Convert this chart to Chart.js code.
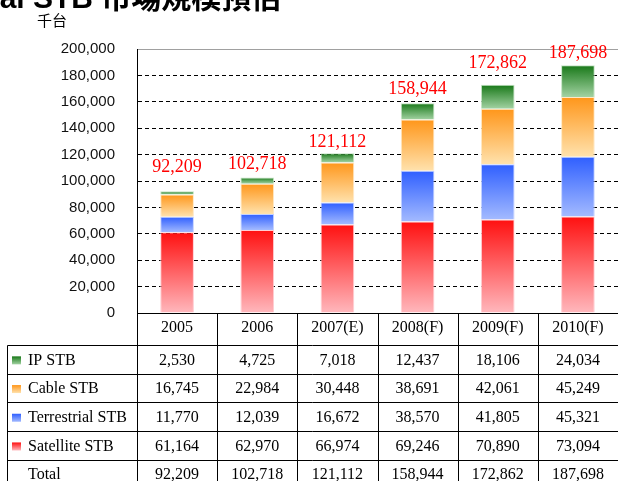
<!DOCTYPE html>
<html><head><meta charset="utf-8">
<script src="https://cdn.jsdelivr.net/npm/chart.js@4/dist/chart.umd.min.js"></script>
<style>
html,body{margin:0;padding:0;background:#fff;overflow:hidden;}
#wrap{position:relative;width:618px;height:481px;overflow:hidden;}
#title{position:absolute;left:-67px;top:-17px;font:bold 30px "Liberation Sans","Noto Sans CJK TC",sans-serif;line-height:30px;white-space:nowrap;color:#000;}
#unit{position:absolute;left:37px;top:11px;font:15px "Noto Sans CJK TC",sans-serif;line-height:18px;color:#000;}
canvas{position:absolute;left:0;top:0;}
</style></head>
<body><div id="wrap">
<canvas id="c" width="618" height="481"></canvas>
<div id="title">Digital STB 市場規模預估</div>
<div id="unit">千台</div>
</div>
<script>
const categories = ['2005', '2006', '2007(E)', '2008(F)', '2009(F)', '2010(F)'];
const ipStb = [2530, 4725, 7018, 12437, 18106, 24034];
const cableStb = [16745, 22984, 30448, 38691, 42061, 45249];
const terrestrialStb = [11770, 12039, 16672, 38570, 41805, 45321];
const satelliteStb = [61164, 62970, 66974, 69246, 70890, 73094];
const totals = [92209, 102718, 121112, 158944, 172862, 187698];
const yTickValues = [0, 20000, 40000, 60000, 80000, 100000, 120000, 140000, 160000, 180000, 200000];

// stacking order bottom -> top
const stackSeries = [satelliteStb, terrestrialStb, cableStb, ipStb];
const seriesNames = ['Satellite STB', 'Terrestrial STB', 'Cable STB', 'IP STB'];
const gradColors = [
  ['#ff1010', '#ffb8bd'],
  ['#2f5fff', '#a3baff'],
  ['#ff961a', '#ffe2ad'],
  ['#187818', '#a2d2a2']
];
const edgeColors = ['rgba(255,200,205,0.9)', 'rgba(190,205,255,0.9)', 'rgba(255,230,190,0.9)', 'rgba(190,225,190,0.9)'];
// vertical lift (px) of each red total label above its bar
const totalLabelLift = [24, 13, 11, 14, 22, 12];

const fmt = v => v.toLocaleString('en-US');

function segGradient(dsIndex) {
  return (c) => {
    const [top, bottom] = gradColors[dsIndex];
    const chart = c.chart;
    if (c.type !== 'data' || !chart.chartArea || !chart.scales.y) return bottom;
    const i = c.dataIndex;
    let base = 0;
    for (let d = 0; d < dsIndex; d++) base += stackSeries[d][i];
    const y0 = chart.scales.y.getPixelForValue(base);
    const y1 = chart.scales.y.getPixelForValue(base + stackSeries[dsIndex][i]);
    const g = chart.ctx.createLinearGradient(0, y1, 0, y0);
    g.addColorStop(0, top);
    g.addColorStop(1, bottom);
    return g;
  };
}

const datasets = stackSeries.map((s, k) => ({
  label: seriesNames[k],
  data: s,
  backgroundColor: segGradient(k),
  borderColor: edgeColors[k],
  borderWidth: 1,
  barPercentage: 0.42,
  categoryPercentage: 1.0
}));

const totalsPlugin = {
  id: 'totals',
  afterDatasetsDraw(chart) {
    const meta = chart.getDatasetMeta(stackSeries.length - 1);
    const ctx = chart.ctx;
    ctx.save();
    ctx.font = '18px "Liberation Serif"';
    ctx.fillStyle = '#ff0000';
    ctx.textAlign = 'center';
    ctx.textBaseline = 'middle';
    meta.data.forEach((el, i) => {
      ctx.fillText(fmt(totals[i]), el.x, el.y - totalLabelLift[i]);
    });
    ctx.restore();
  }
};

const tablePlugin = {
  id: 'table',
  afterDraw(chart) {
    const {ctx, chartArea} = chart;
    const W = chart.width, H = chart.height;
    const n = categories.length;
    const colW = (chartArea.right - chartArea.left) / n;
    const rowTop = 345, rowH = 28.7, tableLeft = 7;
    const rows = [
      {label: 'IP STB', data: ipStb, k: 3},
      {label: 'Cable STB', data: cableStb, k: 2},
      {label: 'Terrestrial STB', data: terrestrialStb, k: 1},
      {label: 'Satellite STB', data: satelliteStb, k: 0},
      {label: 'Total', data: totals, k: -1}
    ];
    const px = v => Math.round(v) + 0.5;
    ctx.save();
    ctx.strokeStyle = '#000';
    ctx.lineWidth = 1;
    ctx.beginPath();
    ctx.moveTo(px(chartArea.left), px(chartArea.bottom));
    ctx.lineTo(W, px(chartArea.bottom));
    for (let r = 0; r <= rows.length; r++) {
      const y = px(rowTop + r * rowH);
      ctx.moveTo(px(tableLeft), y);
      ctx.lineTo(W, y);
    }
    for (let i = 0; i <= n; i++) {
      const x = px(chartArea.left + i * colW);
      ctx.moveTo(x, px(chartArea.bottom));
      ctx.lineTo(x, H);
    }
    ctx.moveTo(px(tableLeft), px(rowTop));
    ctx.lineTo(px(tableLeft), H);
    ctx.stroke();

    ctx.font = '16px "Liberation Serif"';
    ctx.fillStyle = '#000';
    ctx.textBaseline = 'middle';
    rows.forEach((row, r) => {
      const cy = rowTop + r * rowH + rowH / 2 + 1;
      if (row.k >= 0) {
        const [top, bottom] = gradColors[row.k];
        const g = ctx.createLinearGradient(0, cy - 4, 0, cy + 4);
        g.addColorStop(0, top);
        g.addColorStop(1, bottom);
        ctx.fillStyle = g;
        ctx.fillRect(12, cy - 4, 9, 8);
        ctx.fillStyle = '#000';
      }
      ctx.textAlign = 'left';
      ctx.fillText(row.label, 28, cy);
      ctx.textAlign = 'center';
      row.data.forEach((v, i) => {
        ctx.fillText(fmt(v), chartArea.left + (i + 0.5) * colW, cy);
      });
    });
    ctx.restore();
  }
};

new Chart(document.getElementById('c'), {
  type: 'bar',
  data: {labels: categories, datasets},
  options: {
    responsive: false,
    animation: false,
    layout: {padding: {top: 49, left: 0, right: 0, bottom: 0}},
    plugins: {legend: {display: false}, tooltip: {enabled: false}, title: {display: false}},
    scales: {
      x: {
        stacked: true,
        grid: {display: false, drawTicks: false},
        border: {display: false},
        ticks: {padding: 5, color: '#000', font: {family: 'Liberation Serif', size: 16}, maxRotation: 0, autoSkip: false},
        afterFit: s => { s.height = 168; }
      },
      y: {
        stacked: true,
        min: 0,
        max: 200000,
        afterBuildTicks: s => { s.ticks = yTickValues.map(v => ({value: v})); },
        ticks: {padding: 22, color: '#111', font: {family: 'Liberation Sans', size: 15}, callback: v => fmt(v)},
        grid: {
          drawTicks: false,
          lineWidth: 1,
          color: c => (c.tick && c.tick.value === 0) ? 'rgba(0,0,0,0)' : (c.tick && c.tick.value === 200000 ? '#a0a0a0' : '#000')
        },
        border: {display: true, color: '#000', width: 1, dash: c => (c.tick && c.tick.value === 200000) ? [] : [4, 3]},
        afterFit: s => { s.width = 137; }
      }
    }
  },
  plugins: [totalsPlugin, tablePlugin]
});
</script>
</body></html>
